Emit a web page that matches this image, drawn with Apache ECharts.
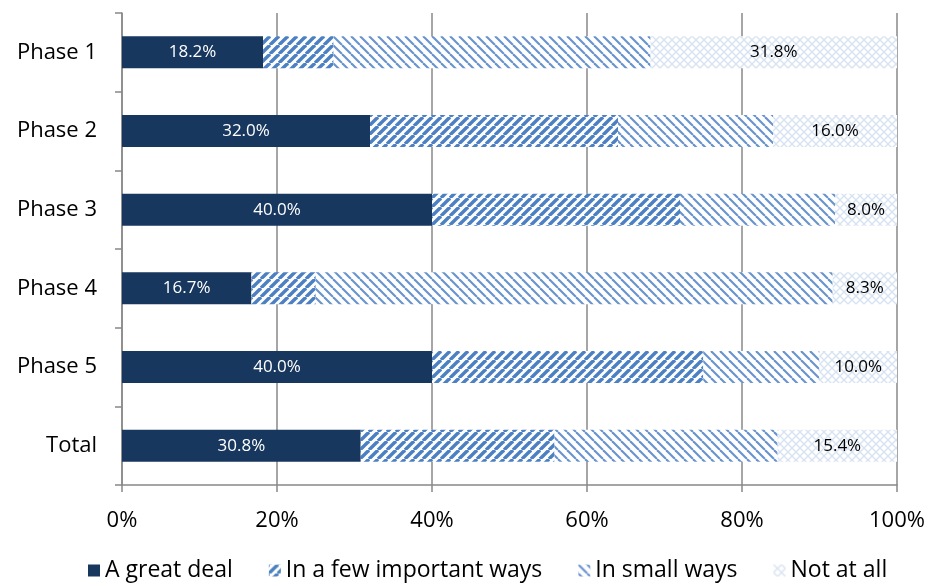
<!DOCTYPE html>
<html>
<head>
<meta charset="utf-8">
<script src="https://cdn.jsdelivr.net/npm/echarts@6/dist/echarts.min.js"></script>
<style>
html,body{margin:0;padding:0;background:#fff;}
#chart{width:930px;height:586px;}
</style>
</head>
<body>
<div id="chart"></div>
<script>
const categories = ['Phase 1', 'Phase 2', 'Phase 3', 'Phase 4', 'Phase 5', 'Total'];
const seriesNames = ['A great deal', 'In a few important ways', 'In small ways', 'Not at all'];
const greatDeal = [18.2, 32.0, 40.0, 16.7, 40.0, 30.8];
const fewImportant = [9.1, 32.0, 32.0, 8.3, 35.0, 25.0];
const smallWays = [40.9, 20.0, 20.0, 66.7, 15.0, 28.8];
const notAtAll = [31.8, 16.0, 8.0, 8.3, 10.0, 15.4];
const xTicks = [0, 20, 40, 60, 80, 100];

function makePattern(kind) {
  const p = kind === 'cross' ? 8 : 9;
  const c = document.createElement('canvas');
  c.width = p; c.height = p;
  const g = c.getContext('2d');
  g.fillStyle = '#ffffff';
  g.fillRect(0, 0, p, p);
  function diag(up, color, w) {
    g.strokeStyle = color; g.lineWidth = w;
    for (let k = -1; k <= 1; k++) {
      g.beginPath();
      if (up) { g.moveTo(k * p, p); g.lineTo(k * p + p, 0); }
      else { g.moveTo(k * p, 0); g.lineTo(k * p + p, p); }
      g.stroke();
    }
  }
  if (kind === 'up') diag(true, '#4c80c2', 3.4);
  if (kind === 'down') diag(false, '#6893cf', 2.1);
  if (kind === 'cross') { diag(true, '#d8e3f2', 1.3); diag(false, '#d8e3f2', 1.3); }
  return { image: c, repeat: 'repeat' };
}

const fills = ['#17375e', makePattern('up'), makePattern('down'), makePattern('cross')];
const dataSets = [greatDeal, fewImportant, smallWays, notAtAll];
const FONT = 'Open Sans';

const series = dataSets.map((d, i) => ({
  name: seriesNames[i],
  type: 'bar',
  stack: 'all',
  barWidth: 32,
  data: d,
  itemStyle: { color: fills[i] },
  label: {
    show: i === 0 || i === 3,
    position: 'inside',
    color: i === 0 ? '#ffffff' : '#000000',
    fontFamily: FONT,
    fontSize: 17,
    formatter: p => p.value.toFixed(1) + '%'
  },
  emphasis: { disabled: true }
}));

const chart = echarts.init(document.getElementById('chart'), null, { renderer: 'canvas' });
chart.setOption({
  animation: false,
  backgroundColor: '#ffffff',
  grid: { left: 122, right: 33, top: 13, bottom: 101, containLabel: false },
  xAxis: {
    type: 'value', min: xTicks[0], max: xTicks[xTicks.length - 1], interval: 20,
    axisLine: { show: true, lineStyle: { color: '#888888', width: 1.5 } },
    axisTick: { show: true, length: 7, lineStyle: { color: '#888888', width: 1.5 } },
    splitLine: { show: true, lineStyle: { color: '#888888', width: 1.5 } },
    axisLabel: { formatter: '{value}%', color: '#000', fontFamily: FONT, fontSize: 22, margin: 25 }
  },
  yAxis: {
    type: 'category', data: categories, inverse: true,
    axisLine: { show: true, lineStyle: { color: '#888888', width: 1.5 } },
    axisTick: { show: true, length: 7, lineStyle: { color: '#888888', width: 1.5 } },
    axisLabel: { color: '#000', fontFamily: FONT, fontSize: 22, margin: 25 }
  },
  legend: {
    top: 554, left: 83,
    itemWidth: 12, itemHeight: 12, itemGap: 36, icon: 'rect',
    textStyle: { color: '#000', fontFamily: FONT, fontSize: 23 },
    data: seriesNames
  },
  series: series
});
</script>
</body>
</html>
